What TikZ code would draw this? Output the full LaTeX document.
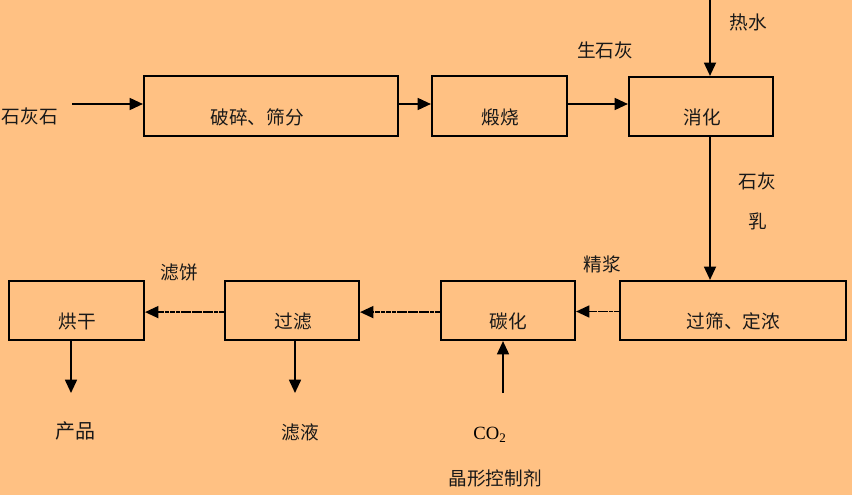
\documentclass[tikz,border=0pt]{standalone}
\usepackage{fontspec}
\newfontfamily\cjk{Noto Sans CJK SC}
\newfontfamily\tms{Liberation Serif}
\usetikzlibrary{arrows.meta}
\definecolor{bgpeach}{RGB}{255,193,131}
\tikzset{
  procbox/.style={draw, line width=1.6pt, inner sep=0pt},
  lbl/.style={font=\cjk\fontsize{14pt}{16pt}\selectfont, inner sep=0pt, text=black!90},
  flow/.style={line width=1.3pt, -{Triangle[length=10pt,width=9pt]}},
  dflow/.style={flow, dash pattern=on 3.5pt off 0.6pt},
}
\begin{document}
\begin{tikzpicture}[x=0.75pt,y=-0.75pt]
\fill[bgpeach] (0,0) rectangle (852,495);
\useasboundingbox (0,0) rectangle (852,495);
% boxes
\node[procbox, minimum width=190.5pt, minimum height=45pt] (b1) at (271,106) {};
\node[procbox, minimum width=101.25pt, minimum height=45pt] (b2) at (499.5,106) {};
\node[procbox, minimum width=108pt, minimum height=44.25pt] (b3) at (701,106.5) {};
\node[procbox, minimum width=169.5pt, minimum height=44.25pt] (b4) at (733,310.5) {};
\node[procbox, minimum width=100.5pt, minimum height=44.25pt] (b5) at (508,310.5) {};
\node[procbox, minimum width=100.5pt, minimum height=44.25pt] (b6) at (292,310.5) {};
\node[procbox, minimum width=101.25pt, minimum height=44.25pt] (b7) at (76.5,310.5) {};
% box texts
\node[lbl] (t1) at (257,117) {破碎、筛分};
\node[lbl] (t2) at (500,117) {煅烧};
\node[lbl] (t3) at (702,117) {消化};
\node[lbl] (t4) at (733.5,321) {过筛、定浓};
\node[lbl] (t5) at (508,321) {碳化};
\node[lbl] (t6) at (293,321) {过滤};
\node[lbl] (t7) at (77,321) {烘干};
% outside labels
\node[lbl] (l1) at (30,116) {石灰石};
\node[lbl] (l2) at (605,50) {生石灰};
\node[lbl] (l3) at (748,22) {热水};
\node[lbl] (l4) at (757,181) {石灰};
\node[lbl] (l5) at (758,221) {乳};
\node[lbl] (l6) at (602,264) {精浆};
\node[lbl] (l7) at (179,272) {滤饼};
\node[lbl, font=\cjk\fontsize{15pt}{17pt}\selectfont] (l8) at (75,431) {产品};
\node[lbl] (l9) at (300,432) {滤液};
\node[inner sep=0pt, font=\tms\fontsize{14pt}{16pt}\selectfont] (l10) at (490,435) {CO\textsubscript{2}};
\node[lbl] (l11) at (495,478) {晶形控制剂};
% free ends
\coordinate (in1) at (72,104);
\coordinate (hw) at (710,0);
\coordinate (p1) at (71,393);
\coordinate (p2) at (295,393);
\coordinate (co) at (503,393);
% connectors
\draw[flow] (in1) -- (in1 -| b1.west);
\draw[flow] (b1.east |- in1) -- (b2.west |- in1);
\draw[flow] (b2.east |- in1) -- (b3.west |- in1);
\draw[flow] (hw) -- (hw |- b3.north);
\draw[flow] (hw |- b3.south) -- (hw |- b4.north);
\draw[dflow] ([yshift=-0.75pt]b4.west) -- ([yshift=-0.75pt]b5.east);
\draw[dflow] ([yshift=-1.2pt]b5.west) -- ([yshift=-1.2pt]b6.east);
\draw[dflow] ([yshift=-1.2pt]b6.west) -- ([yshift=-1.2pt]b7.east);
\draw[flow] (p1 |- b7.south) -- (p1);
\draw[flow] (p2 |- b6.south) -- (p2);
\draw[flow] (co) -- (co |- b5.south);
\end{tikzpicture}
\end{document}
